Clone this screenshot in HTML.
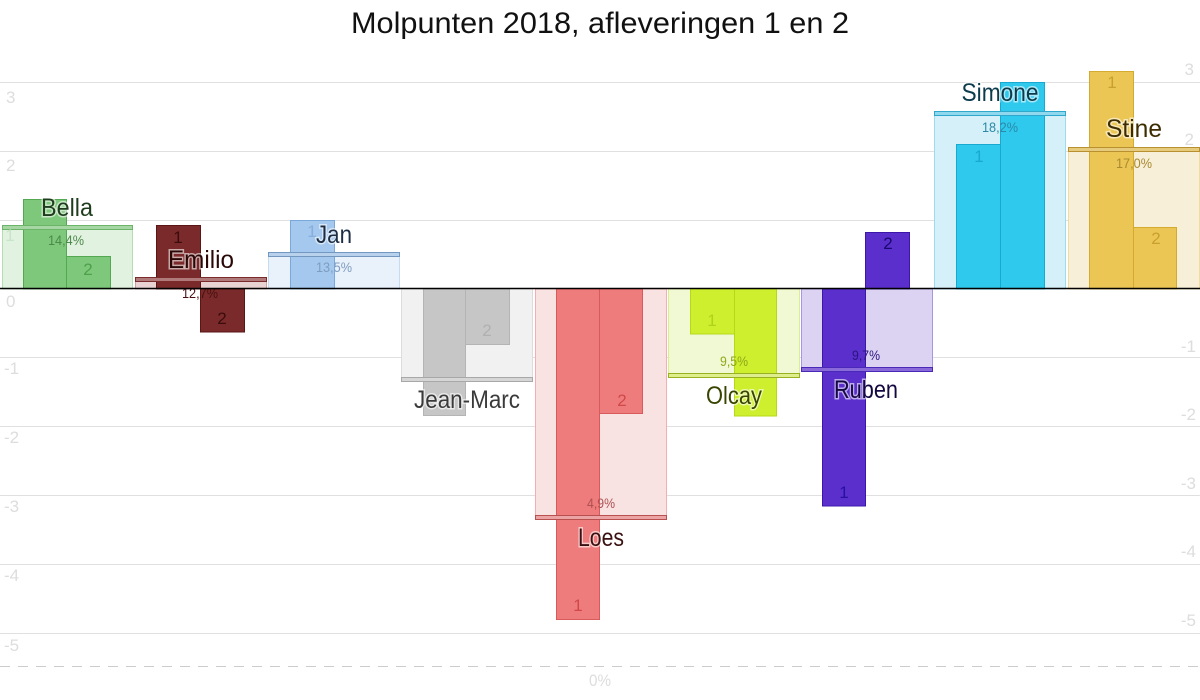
<!DOCTYPE html>
<html><head><meta charset="utf-8"><style>
html,body{margin:0;padding:0;background:#fff}
svg{display:block;font-family:"Liberation Sans",sans-serif}
.ax{fill:#ddd;font-size:17px}
.nm{font-size:25px;stroke:#fff;stroke-width:3px;paint-order:stroke;stroke-opacity:.6}
.pc{font-size:14px}
.bn{font-size:17px}
</style></head><body>
<svg width="1200" height="700" viewBox="0 0 1200 700">
<text x="600" y="33" text-anchor="middle" font-size="30" textLength="498" lengthAdjust="spacingAndGlyphs" fill="#111">Molpunten 2018, afleveringen 1 en 2</text>
<g stroke="#e0e0e0" stroke-width="1">
<line x1="0" x2="1200" y1="82.5" y2="82.5"/><line x1="0" x2="1200" y1="151.5" y2="151.5"/><line x1="0" x2="1200" y1="220.5" y2="220.5"/>
<line x1="0" x2="1200" y1="357.5" y2="357.5"/><line x1="0" x2="1200" y1="426.5" y2="426.5"/><line x1="0" x2="1200" y1="495.5" y2="495.5"/><line x1="0" x2="1200" y1="564.5" y2="564.5"/><line x1="0" x2="1200" y1="633.5" y2="633.5"/>
</g>
<line x1="0" x2="1200" y1="666.5" y2="666.5" stroke="#ccc" stroke-dasharray="10,8"/>
<text x="600" y="686" text-anchor="middle" class="ax" font-size="16" textLength="22" lengthAdjust="spacingAndGlyphs">0%</text>
<g class="ax">
<text x="6" y="103">3</text><text x="6" y="171">2</text><text x="6" y="241">1</text><text x="6" y="307">0</text>
<text x="4" y="374">-1</text><text x="4" y="443">-2</text><text x="4" y="512">-3</text><text x="4" y="581">-4</text><text x="4" y="651">-5</text>
</g>
<g class="ax" text-anchor="end">
<text x="1194" y="75">3</text><text x="1194" y="145">2</text><text x="1194" y="213">1</text><text x="1194" y="282">0</text>
<text x="1196" y="352">-1</text><text x="1196" y="420">-2</text><text x="1196" y="489">-3</text><text x="1196" y="557">-4</text><text x="1196" y="626">-5</text>
</g>

<!-- Bella -->
<rect x="2.5" y="227" width="130" height="62" fill="#e2f2e1" stroke="#b5dcb3"/>
<rect x="23.5" y="199.5" width="43" height="89.5" fill="#7dc87a" stroke="#55a852"/>
<rect x="66.5" y="256.5" width="44" height="32.5" fill="#7dc87a" stroke="#55a852"/>
<rect x="2.5" y="225.5" width="130" height="4" fill="#a6d6a3" stroke="#6cb568"/>
<text x="67" y="216" text-anchor="middle" class="nm" fill="#1e3d1c" textLength="52" lengthAdjust="spacingAndGlyphs">Bella</text>
<text x="66" y="245" text-anchor="middle" class="pc" fill="#4d8a4a" textLength="36" lengthAdjust="spacingAndGlyphs">14,4%</text>
<text x="88" y="275" text-anchor="middle" class="bn" fill="#4fa04c">2</text>
<text x="10" y="241" text-anchor="middle" class="bn" fill="#c8e4c6">1</text>

<!-- Emilio -->
<rect x="135.5" y="280" width="131" height="9" fill="#e8d2d2" stroke="#c9a1a1"/>
<rect x="156.5" y="225.5" width="44" height="63.5" fill="#7a2a2a" stroke="#5a1515"/>
<rect x="200.5" y="289" width="44" height="43" fill="#7a2a2a" stroke="#5a1515"/>
<rect x="135.5" y="277.5" width="131" height="4" fill="#b07a7a" stroke="#7a2a2a"/>
<text x="201" y="268" text-anchor="middle" class="nm" fill="#2a0808" textLength="66" lengthAdjust="spacingAndGlyphs">Emilio</text>
<text x="200" y="298" text-anchor="middle" class="pc" fill="#4a1010" textLength="36" lengthAdjust="spacingAndGlyphs">12,7%</text>
<text x="178" y="243" text-anchor="middle" class="bn" fill="#3a0c0c">1</text>
<text x="222" y="324" text-anchor="middle" class="bn" fill="#3a0c0c">2</text>

<!-- Jan -->
<rect x="268.5" y="254" width="131" height="35" fill="#e9f1fa" stroke="#c5dbf2"/>
<rect x="290.5" y="220.5" width="44" height="68.5" fill="#a4c8ee" stroke="#7aa8da"/>
<rect x="268.5" y="252.5" width="131" height="4" fill="#b8d2ee" stroke="#7497c0"/>
<text x="334" y="243" text-anchor="middle" class="nm" fill="#1c2d44" textLength="36" lengthAdjust="spacingAndGlyphs">Jan</text>
<text x="334" y="272" text-anchor="middle" class="pc" fill="#7e9dc0" textLength="36" lengthAdjust="spacingAndGlyphs">13,5%</text>
<text x="312" y="237" text-anchor="middle" class="bn" fill="#88aede">1</text>

<!-- Jean-Marc -->
<rect x="401.5" y="289" width="131" height="89" fill="#f1f1f1" stroke="#dcdcdc"/>
<rect x="423.5" y="289" width="42" height="126.5" fill="#c6c6c6" stroke="#b4b4b4"/>
<rect x="465.5" y="289" width="44" height="55.5" fill="#c6c6c6" stroke="#b4b4b4"/>
<rect x="401.5" y="377.5" width="131" height="4" fill="#d6d6d6" stroke="#a8a8a8"/>
<text x="467" y="408" text-anchor="middle" class="nm" fill="#3a3a3a" textLength="106" lengthAdjust="spacingAndGlyphs">Jean-Marc</text>
<text x="487" y="336" text-anchor="middle" class="bn" fill="#b0b0b0">2</text>

<!-- Loes -->
<rect x="535.5" y="289" width="131" height="227" fill="#f8e2e2" stroke="#f0b0b0"/>
<rect x="556.5" y="289" width="43" height="330.5" fill="#ef7c7c" stroke="#d85a5a"/>
<rect x="599.5" y="289" width="43" height="124.5" fill="#ef7c7c" stroke="#d85a5a"/>
<rect x="535.5" y="515.5" width="131" height="4" fill="#eba3a3" stroke="#b85050"/>
<text x="601" y="546" text-anchor="middle" class="nm" fill="#3a1010" textLength="46" lengthAdjust="spacingAndGlyphs">Loes</text>
<text x="601" y="508" text-anchor="middle" class="pc" fill="#b05050" textLength="28" lengthAdjust="spacingAndGlyphs">4,9%</text>
<text x="578" y="611" text-anchor="middle" class="bn" fill="#d04848">1</text>
<text x="622" y="406" text-anchor="middle" class="bn" fill="#d04848">2</text>

<!-- Olcay -->
<rect x="668.5" y="289" width="131" height="86" fill="#f0f8d4" stroke="#d8ee90"/>
<rect x="690.5" y="289" width="44" height="45" fill="#cdef2e" stroke="#b5d81a"/>
<rect x="734.5" y="289" width="42" height="127" fill="#cdef2e" stroke="#b5d81a"/>
<rect x="668.5" y="373.5" width="131" height="4" fill="#dcef8c" stroke="#9ab020"/>
<text x="734" y="404" text-anchor="middle" class="nm" fill="#3a4400" textLength="56" lengthAdjust="spacingAndGlyphs">Olcay</text>
<text x="734" y="366" text-anchor="middle" class="pc" fill="#90a81a" textLength="28" lengthAdjust="spacingAndGlyphs">9,5%</text>
<text x="712" y="326" text-anchor="middle" class="bn" fill="#b0d21a">1</text>

<!-- Ruben -->
<rect x="801.5" y="289" width="131" height="80" fill="#dcd3f3" stroke="#a896e0"/>
<rect x="822.5" y="289" width="43" height="217" fill="#5a2fcc" stroke="#3c18aa"/>
<rect x="865.5" y="232.5" width="44" height="56.5" fill="#5a2fcc" stroke="#3c18aa"/>
<rect x="801.5" y="367.5" width="131" height="4" fill="#8a6ad8" stroke="#4a28b8"/>
<text x="866" y="398" text-anchor="middle" class="nm" fill="#140840" textLength="64" lengthAdjust="spacingAndGlyphs">Ruben</text>
<text x="866" y="360" text-anchor="middle" class="pc" fill="#2c1480" textLength="28" lengthAdjust="spacingAndGlyphs">9,7%</text>
<text x="844" y="498" text-anchor="middle" class="bn" fill="#2a10a0">1</text>
<text x="888" y="249" text-anchor="middle" class="bn" fill="#1a0870">2</text>

<!-- Simone -->
<rect x="934.5" y="113" width="131" height="176" fill="#d5f0f8" stroke="#9cdcef"/>
<rect x="956.5" y="144.5" width="44" height="144.5" fill="#2fc9ee" stroke="#18a8d0"/>
<rect x="1000.5" y="82.5" width="44" height="206.5" fill="#2fc9ee" stroke="#18a8d0"/>
<rect x="934.5" y="111.5" width="131" height="4" fill="#8fd8ee" stroke="#30a8cc"/>
<text x="1000" y="101" text-anchor="middle" class="nm" fill="#0c3c4c" textLength="77" lengthAdjust="spacingAndGlyphs">Simone</text>
<text x="1000" y="132" text-anchor="middle" class="pc" fill="#2a8aa8" textLength="36" lengthAdjust="spacingAndGlyphs">18,2%</text>
<text x="979" y="162" text-anchor="middle" class="bn" fill="#18a8d0">1</text>

<!-- Stine -->
<rect x="1068.5" y="149" width="131" height="140" fill="#f8efd8" stroke="#f0dca0"/>
<rect x="1089.5" y="71.5" width="44" height="217.5" fill="#ecc654" stroke="#d4aa30"/>
<rect x="1133.5" y="227.5" width="43" height="61.5" fill="#ecc654" stroke="#d4aa30"/>
<rect x="1068.5" y="147.5" width="131" height="4" fill="#e6cb7c" stroke="#b89030"/>
<text x="1134" y="137" text-anchor="middle" class="nm" fill="#3c2c00" textLength="56" lengthAdjust="spacingAndGlyphs">Stine</text>
<text x="1134" y="168" text-anchor="middle" class="pc" fill="#a88a30" textLength="36" lengthAdjust="spacingAndGlyphs">17,0%</text>
<text x="1112" y="88" text-anchor="middle" class="bn" fill="#c8a030">1</text>
<text x="1156" y="244" text-anchor="middle" class="bn" fill="#c8a030">2</text>

<line x1="0" x2="1200" y1="288.5" y2="288.5" stroke="#000" stroke-width="1.5"/>
</svg>
</body></html>
